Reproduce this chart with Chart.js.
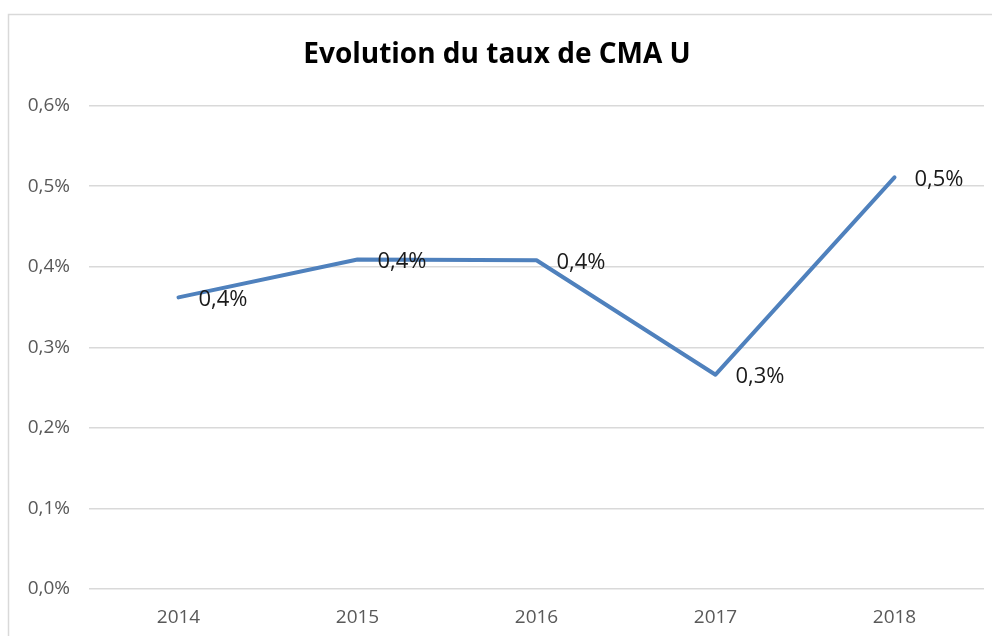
<!DOCTYPE html>
<html>
<head>
<meta charset="utf-8">
<script src="https://cdn.jsdelivr.net/npm/chart.js@4"></script>
<style>
  html, body { margin: 0; padding: 0; background: #fff; }
  #wrap { width: 992px; height: 636px; }
</style>
</head>
<body>
<div id="wrap"><canvas id="chart" width="992" height="636"></canvas></div>
<script>
const years = ['2014', '2015', '2016', '2017', '2018'];
const tauxCMA = [0.362, 0.409, 0.408, 0.266, 0.511];

const FONT = '"Open Sans", "Liberation Sans", sans-serif';

function pct(v) {
  return v.toFixed(1).replace('.', ',') + '%';
}

// cadre gris du graphique (bords gauche et haut visibles)
const framePlugin = {
  id: 'frame',
  beforeDraw(chart) {
    const ctx = chart.ctx;
    ctx.save();
    ctx.strokeStyle = '#d9d9d9';
    ctx.lineWidth = 1.5;
    ctx.beginPath();
    ctx.moveTo(8.5, 700);
    ctx.lineTo(8.5, 14.5);
    ctx.lineTo(992, 14.5);
    ctx.stroke();
    ctx.restore();
  }
};

// etiquettes de valeur a droite des points
const labelPlugin = {
  id: 'valueLabels',
  afterDatasetsDraw(chart) {
    const ctx = chart.ctx;
    const meta = chart.getDatasetMeta(0);
    ctx.save();
    ctx.font = '22px ' + FONT;
    ctx.fillStyle = '#1a1a1a';
    ctx.textAlign = 'left';
    ctx.textBaseline = 'middle';
    meta.data.forEach((pt, i) => {
      ctx.fillText(pct(tauxCMA[i]), pt.x + 20, pt.y + 2);
    });
    ctx.restore();
  }
};

new Chart(document.getElementById('chart'), {
  type: 'line',
  data: {
    labels: years,
    datasets: [{
      label: 'Taux de CMA U',
      data: tauxCMA,
      borderColor: '#4f81bd',
      backgroundColor: '#4f81bd',
      borderWidth: 4,
      borderJoinStyle: 'round',
      borderCapStyle: 'round',
      pointRadius: 0,
      tension: 0,
    }],
  },
  options: {
    responsive: false,
    animation: false,
    layout: { padding: { left: 10, right: 8, top: 0, bottom: 0 } },
    plugins: {
      legend: { display: false },
      tooltip: { enabled: false },
      title: {
        display: true,
        text: 'Evolution du taux de CMA U',
        color: '#000',
        font: { family: FONT, size: 28, weight: 'bold' },
        padding: { top: 38, bottom: 34 },
      },
    },
    scales: {
      x: {
        offset: true,
        grid: { display: false, drawTicks: false },
        border: { display: false },
        ticks: { color: '#595959', font: { family: FONT, size: 19 }, padding: 17 },
        afterFit(scale) { scale.height = 47; },
      },
      y: {
        min: 0,
        max: 0.6,
        ticks: {
          stepSize: 0.1,
          color: '#595959',
          font: { family: FONT, size: 19 },
          padding: 19,
          callback: v => pct(v),
        },
        grid: { color: '#d9d9d9', lineWidth: 1.5, drawTicks: false },
        border: { display: false },
        afterFit(scale) { scale.width = 79; },
      },
    },
  },
  plugins: [framePlugin, labelPlugin],
});
</script>
</body>
</html>
